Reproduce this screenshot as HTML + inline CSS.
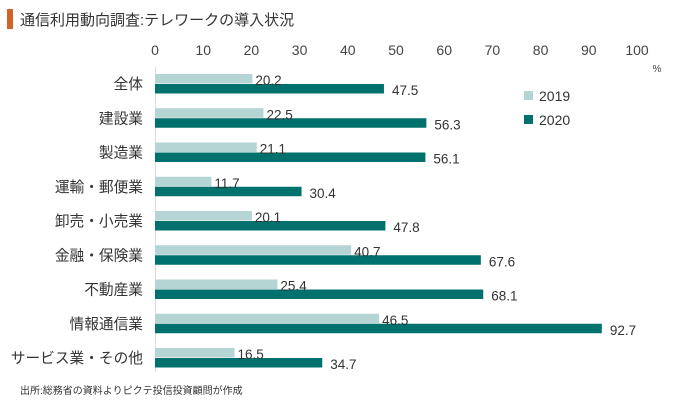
<!DOCTYPE html>
<html><head><meta charset="utf-8"><style>
body{margin:0;background:#fff;width:680px;height:407px;overflow:hidden;font-family:"Liberation Sans","Noto Sans CJK JP",sans-serif;}
svg text{font-family:"Liberation Sans","Noto Sans CJK JP",sans-serif;}
</style></head><body>
<svg width="680" height="407">
<rect x="7" y="9" width="6" height="20" fill="#d0622a"/>
<text x="20" y="25" font-size="15" fill="#333">通信利用動向調査:テレワークの導入状況</text>
<g id="plot"></g>
<text x="20" y="394" font-size="10" fill="#333">出所:総務省の資料よりピクテ投信投資顧問が作成</text>
</svg>
<script>
const categories=["全体","建設業","製造業","運輸・郵便業","卸売・小売業","金融・保険業","不動産業","情報通信業","サービス業・その他"];
const values2019=[20.2,22.5,21.1,11.7,20.1,40.7,25.4,46.5,16.5];
const values2020=[47.5,56.3,56.1,30.4,47.8,67.6,68.1,92.7,34.7];
const ticks=[0,10,20,30,40,50,60,70,80,90,100];
const seriesNames=["2019","2020"];
const NS="http://www.w3.org/2000/svg";
const g=document.getElementById('plot');
const x=v=>155+v*4.82;
const rowY=i=>74+i*34.25;
function mk(t,a,txt){const e=document.createElementNS(NS,t);for(const k in a)e.setAttribute(k,a[k]);if(txt!==undefined)e.textContent=txt;g.appendChild(e);return e;}
ticks.forEach(t=>{const e=mk('text',{x:x(t),y:55,'font-size':14,fill:'#444','text-anchor':'middle'},t);

});
const pc=mk('text',{x:657,y:72,'font-size':10,fill:'#444','text-anchor':'middle'},'%');


const ax=mk('line',{x1:155.5,x2:155.5,y1:67,y2:372,stroke:'#ddd','stroke-width':1});


categories.forEach((c,i)=>{
const y=rowY(i);
const l=mk('text',{x:143,y:y+15,'font-size':14.7,fill:'#333','text-anchor':'end'},c);


const b1=mk('rect',{x:x(0),y:y,width:x(values2019[i])-x(0),height:9.5,fill:'#b5d4d4'});


const b2=mk('rect',{x:x(0),y:y+10,width:x(values2020[i])-x(0),height:9.5,fill:'#00716c'});


const t1=mk('text',{x:x(values2019[i])+3,y:y+11,'font-size':13.5,fill:'#333'},values2019[i].toFixed(1));


const t2=mk('text',{x:x(values2020[i])+8,y:y+21,'font-size':13.5,fill:'#333'},values2020[i].toFixed(1));


});
const colors=['#b5d4d4','#00716c'];
seriesNames.forEach((s,i)=>{
const r=mk('rect',{x:524,y:91+i*24,width:9,height:9,fill:colors[i]});


const t=mk('text',{x:539,y:101+i*24,'font-size':14,fill:'#333'},s);


});
</script>
</body></html>
